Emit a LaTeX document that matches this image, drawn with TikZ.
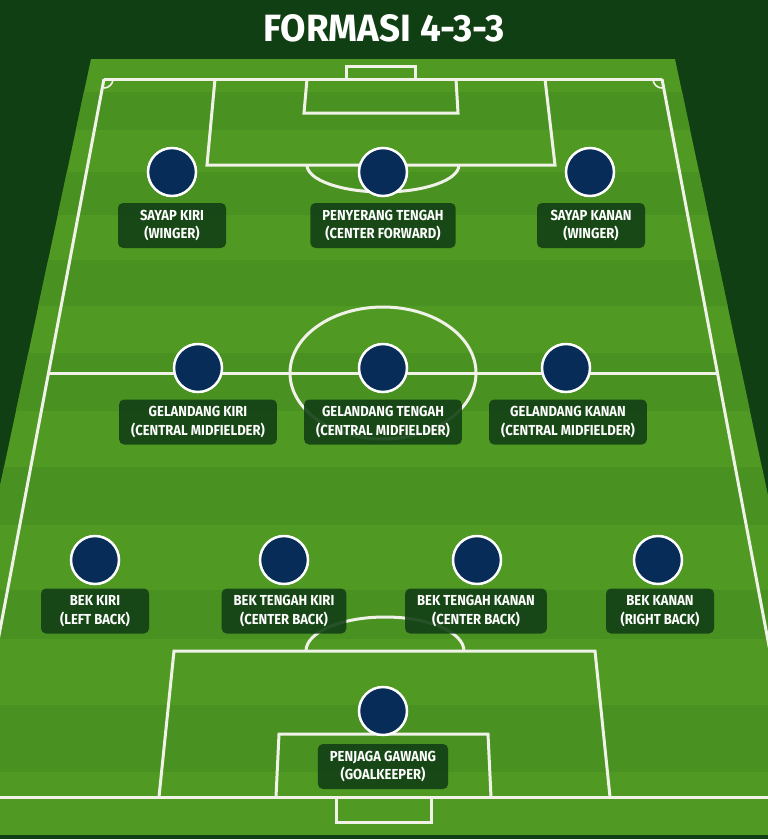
\documentclass[tikz,border=0pt]{standalone}
\usepackage{fontspec}
\newfontfamily\lblfont{Fira Sans}[FakeStretch=0.9]
\newfontfamily\ttlfont{Fira Sans}[FakeStretch=0.97]
\definecolor{bgdark}{RGB}{17,63,20}
\definecolor{grassL}{RGB}{80,154,36}
\definecolor{grassD}{RGB}{73,145,32}
\definecolor{linew}{RGB}{240,242,232}
\definecolor{navy}{RGB}{8,44,88}
\definecolor{lblfill}{RGB}{18,64,21}
\tikzset{
  pitchline/.style={draw=linew, line width=3pt, line join=miter},
  player/.style={circle, fill=navy, draw=white, line width=2.5pt, minimum size=48pt, inner sep=0pt},
  lbl/.style={rounded corners=5pt, fill=lblfill, fill opacity=0.9, text opacity=1, text=white,
    align=center, minimum height=45pt, minimum width=108pt, inner xsep=12pt, inner ysep=0pt,
    font=\lblfont\bfseries\fontsize{14.5pt}{18.5pt}\selectfont},
}
\begin{document}
\begin{tikzpicture}[x=1pt,y=-1pt]
\useasboundingbox (0,0) rectangle (768,839);
\begin{scope}
\clip (0,0) rectangle (768,839);
\fill[bgdark] (0,0) rectangle (768,839);
% grass
\begin{scope}
\clip (91,59) -- (675,59) -- (768,496) -- (768,835) -- (0,835) -- (0,486) -- cycle;
\fill[grassL] (0,59) rectangle (768,835);
\foreach \a/\b in {92/130, 172/215, 260/306, 353/411, 467/525, 590/639, 705/772}
  \fill[grassD] (0,\a) rectangle (768,\b);
\end{scope}
% pitch lines
\draw[pitchline] (-20,797) -- (790,797);
\draw[pitchline] (104,79) -- (662,79);
\draw[pitchline] (104,79) -- (-10,683);
\draw[pitchline] (662,79) -- (776,683);
\draw[pitchline] (49,373) -- (717,373);
\draw[pitchline] (383,373) ellipse [x radius=93, y radius=66];
% corner arcs
\draw[draw=linew, line width=1.6pt] (113,79) arc [start angle=0, end angle=-90, x radius=9, y radius=-9];
\draw[draw=linew, line width=1.6pt] (653,79) arc [start angle=180, end angle=270, x radius=9, y radius=-9];
% top goal and boxes
\draw[pitchline] (346,79) -- (346,66) -- (415,66) -- (415,79);
\draw[pitchline] (215,79) -- (207,165) -- (555,165) -- (545,79);
\draw[pitchline] (307,79) -- (304,113) -- (458,113) -- (456,79);
\draw[pitchline] (307,165) arc [start angle=180, end angle=360, x radius=76, y radius=-27];
% bottom goal and boxes
\draw[pitchline] (159,797) -- (174,651) -- (595,651) -- (610,797);
\draw[pitchline] (276,797) -- (279,734) -- (488,734) -- (491,797);
\draw[pitchline] (336,797) -- (336,822) -- (431,822) -- (431,797);
\draw[pitchline] (306,651) arc [start angle=180, end angle=0, x radius=79, y radius=-34];
\fill[bgdark] (0,835) rectangle (768,839);
\end{scope}
% title
\node[text=white, font=\ttlfont\bfseries\fontsize{38pt}{40pt}\selectfont] (title) at (384,28) {FORMASI 4-3-3};
% players
\node[player] (lw) at (172,172) {};
\node[player] (cf) at (383,172) {};
\node[player] (rw) at (590,172) {};
\node[player] (lm) at (198,368) {};
\node[player] (cm) at (383,368) {};
\node[player] (rm) at (566,368) {};
\node[player] (lb) at (95,560) {};
\node[player] (lcb) at (284,560) {};
\node[player] (rcb) at (477,560) {};
\node[player] (rb) at (658,560) {};
\node[player] (gk) at (383,711) {};
% labels
\node[lbl] (llw) at (172,225.5) {SAYAP KIRI\\(WINGER)};
\node[lbl] (lcf) at (383,225.5) {PENYERANG TENGAH\\(CENTER FORWARD)};
\node[lbl] (lrw) at (591,225.5) {SAYAP KANAN\\(WINGER)};
\node[lbl] (llm) at (198,422) {GELANDANG KIRI\\(CENTRAL MIDFIELDER)};
\node[lbl] (lcm) at (383,422) {GELANDANG TENGAH\\(CENTRAL MIDFIELDER)};
\node[lbl] (lrm) at (568,422) {GELANDANG KANAN\\(CENTRAL MIDFIELDER)};
\node[lbl] (llb) at (95,611) {BEK KIRI\\(LEFT BACK)};
\node[lbl] (llcb) at (284,611) {BEK TENGAH KIRI\\(CENTER BACK)};
\node[lbl] (lrcb) at (476,611) {BEK TENGAH KANAN\\(CENTER BACK)};
\node[lbl] (lrb) at (660,611) {BEK KANAN\\(RIGHT BACK)};
\node[lbl] (lgk) at (383,766.5) {PENJAGA GAWANG\\(GOALKEEPER)};
\end{tikzpicture}
\end{document}
